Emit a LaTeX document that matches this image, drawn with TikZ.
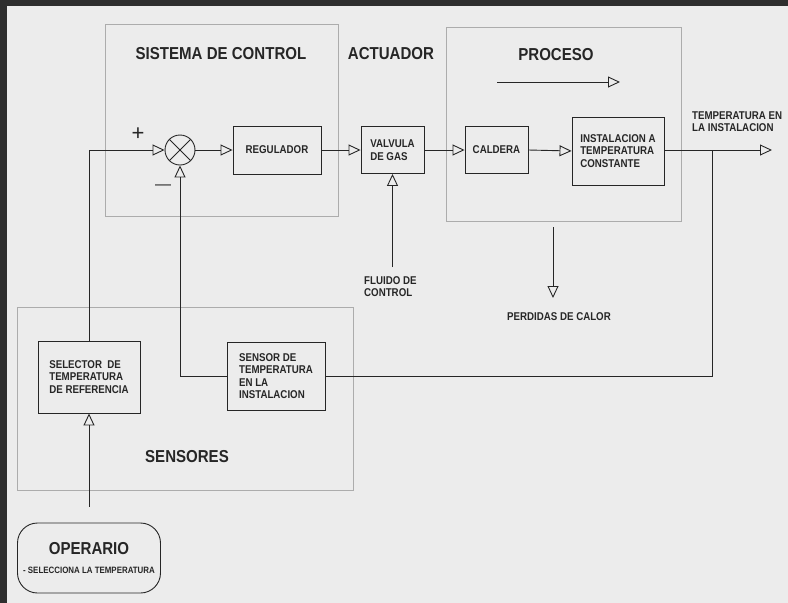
\documentclass[tikz,border=0pt]{standalone}
\usepackage{fontspec}
\usepackage{tikz}
\usetikzlibrary{arrows.meta}
\newfontfamily\titlefont[FakeStretch=0.87]{Liberation Sans}
\newfontfamily\blockfont[FakeStretch=0.86]{Liberation Sans}
\newfontfamily\signfont{Liberation Sans}
\definecolor{paper}{RGB}{236,236,236}
\definecolor{frame}{RGB}{46,46,46}
\definecolor{ink}{RGB}{38,38,38}

\begin{document}
\begin{tikzpicture}[x=1pt,y=-1pt]
\tikzset{block/.style={ %
		draw=ink,
		line width=0.9pt,
		align=left,
		inner sep=0pt,
		text=ink,
		font=\blockfont\bfseries\fontsize{11.3}{12.5}\selectfont %
	},
	link/.style={draw=ink, line width=0.9pt},
	flow/.style={link, -{Triangle[open,length=12pt,width=11pt]}},
	group/.style={draw=gray!65, line width=0.7pt},
	title/.style={font=\titlefont\bfseries\fontsize{17.3}{20}\selectfont, text=ink},
	tag/.style={font=\blockfont\bfseries\fontsize{11.3}{12.5}\selectfont, text=ink, align=left, inner sep=0pt}
}
\useasboundingbox (0,0) rectangle (788,603);
\fill[frame] (0,0) rectangle (788,603);
\fill[paper] (7,6) rectangle (788,603);

% grupos
\draw[group] (105,24) rectangle (338,216);
\draw[group] (446,27) rectangle (681,221);
\draw[group] (17,307) rectangle (353,490);

\node[title] (tCtrl) at (221,54) {SISTEMA DE CONTROL};
\node[title] (tAct) at (391,54) {ACTUADOR};
\node[title] (tProc) at (556,55) {PROCESO};
\node[title] (tSens) at (187,457) {SENSORES};

% lazo directo
\node[circle, draw=ink, line width=0.9pt, minimum size=30pt, inner sep=0pt] (sum) at (180,150) {};
\draw[link] (sum.north west) -- (sum.south east) (sum.north east) -- (sum.south west);
\node[font=\signfont\fontsize{22}{22}\selectfont, text=ink] (plus) at (138,134) {+};
\node[font=\signfont\fontsize{16}{16}\selectfont, text=ink] (minus) at (163,187) {—};

\node[block, minimum width=88pt, minimum height=48pt] (reg) at (277,150) {REGULADOR};
\node[block, minimum width=63pt, minimum height=47pt] (valv) at (392.5,150) {VALVULA\\DE GAS};
\node[block, minimum width=63pt, minimum height=47pt] (cald) at (496.5,150) {CALDERA};
\node[block, minimum width=92pt, minimum height=68pt] (inst) at (618,151) {INSTALACION A\\TEMPERATURA\\CONSTANTE};

\draw[flow] (sum.east) -- (reg.west);
\draw[flow] (reg.east) -- (valv.west);
\draw[flow] (valv.east) -- (cald.west);
\draw[flow] (cald.east) -- (inst.west);

\coordinate (out) at (772,150);
\coordinate (tap) at (712,150);
\draw[flow] (inst.east |- out) -- (out);
\node[tag, anchor=west] (outLbl) at (692,121.5) {TEMPERATURA EN\\LA INSTALACION};

\coordinate (pa) at (497,82);
\coordinate (pb) at (620,82);
\draw[flow] (pa) -- (pb);

\coordinate (fluid) at (392.5,267);
\draw[flow] (fluid) -- (valv.south);
\node[tag, anchor=west] (fluidLbl) at (364,286.5) {FLUIDO DE\\CONTROL};

\coordinate (loss) at (553,227);
\coordinate (lossEnd) at (553,298);
\draw[flow] (loss) -- (lossEnd);
\node[tag] (lossLbl) at (559,317) {PERDIDAS DE CALOR};

% sensores
\node[block, minimum width=102pt, minimum height=72pt] (sel) at (89,377) {SELECTOR \ DE\\TEMPERATURA\\DE REFERENCIA};
\node[block, minimum width=98pt, minimum height=68pt] (sens) at (276,376) {SENSOR DE\\TEMPERATURA\\EN LA\\INSTALACION};

\draw[flow] (sel.north) |- (sum.west);
\draw[flow] (sens.west) -| (sum.south);
\draw[link] (tap) |- (sens.east);

\node[draw=ink, line width=0.9pt, rounded corners=20pt, minimum width=143pt, minimum height=70pt,
	align=center, text=ink, inner sep=0pt] (oper) at (89,558)
	{{\titlefont\bfseries\fontsize{17.3}{20}\selectfont OPERARIO}\\[7pt]{\blockfont\bfseries\fontsize{9.2}{11}\selectfont - SELECCIONA LA TEMPERATURA}};
\draw[flow, shorten <=16pt] (oper.north) -- (sel.south);

\end{tikzpicture}
\end{document}
